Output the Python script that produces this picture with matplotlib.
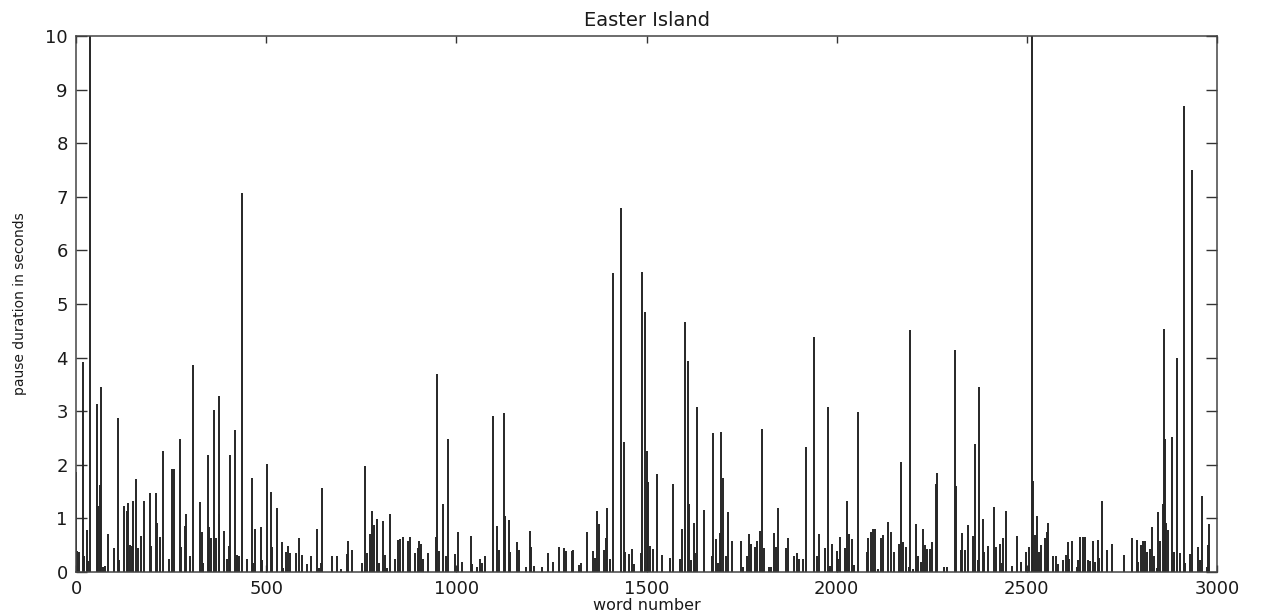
import matplotlib.pyplot as plt

# pauses (word index, pause in seconds)
word_number = [
    0, 3, 8, 17, 22, 28, 32, 38, 54, 57, 62, 66, 72, 77, 83, 100, 110, 112, 126, 133,
    137, 142, 146, 150, 157, 162, 170, 179, 195, 197, 210, 214, 220, 228, 245, 253, 258, 274, 276, 287,
    290, 300, 307, 326, 330, 335, 346, 349, 355, 363, 368, 375, 377,
    390, 396, 401, 405, 419, 422, 428, 436, 449, 462, 464, 470, 486, 490, 501, 512, 514, 529,
    541, 545, 552, 558, 562, 578, 586, 595, 607, 617, 634, 638, 645, 648, 672, 685, 698, 712, 716, 726,
    751, 760,
    765, 772, 778, 783, 791, 796, 808, 813, 818, 825, 838, 846, 852, 859, 872, 878, 892, 898, 902, 908,
    913, 926, 946, 948, 954, 966, 973, 978, 997, 1005, 1016, 1038, 1042, 1054, 1061, 1067, 1075, 1096, 1106, 1112,
    1124, 1127, 1138, 1140,
    1160, 1165, 1182, 1193, 1196, 1205, 1226, 1240, 1255, 1270, 1282, 1287, 1303, 1307, 1322, 1327, 1343, 1359, 1364, 1369,
    1375, 1389, 1393, 1395, 1404, 1411, 1433, 1441, 1444, 1453, 1461, 1468, 1485, 1489, 1496, 1501, 1505, 1508, 1516,
    1528, 1541, 1563, 1569, 1588, 1594, 1600, 1610, 1612, 1616, 1626, 1628, 1634, 1652, 1671, 1675, 1682, 1689, 1693, 1696,
    1700, 1709, 1715, 1725, 1748, 1754, 1765, 1769, 1774, 1785, 1791, 1798, 1803, 1810, 1822, 1828, 1836, 1840, 1845, 1868,
    1873, 1888, 1895, 1901,
    1912, 1919, 1941, 1947, 1953, 1969, 1978, 1983, 1988, 2000, 2004, 2009, 2022, 2028, 2032, 2039, 2046, 2057, 2079, 2083,
    2090, 2096, 2101, 2109, 2116, 2122, 2135, 2144, 2150, 2164, 2169, 2175, 2182, 2190, 2193, 2202, 2208, 2214, 2221, 2226,
    2232, 2238, 2245, 2250, 2260, 2264, 2281,
    2291, 2312, 2314, 2326, 2330, 2337, 2345, 2359, 2365, 2371, 2375, 2385, 2388, 2398, 2414, 2419, 2429, 2434, 2438, 2444,
    2462, 2475, 2484, 2499, 2505, 2514, 2517, 2521, 2528, 2533, 2536, 2547, 2554, 2556, 2568, 2576, 2581, 2596, 2602, 2607,
    2611, 2619, 2631, 2635, 2641, 2647, 2653, 2661,
    2666, 2675, 2679, 2686, 2690, 2697, 2710, 2723, 2755, 2776, 2789, 2793, 2800, 2806, 2810, 2816, 2824, 2830, 2835, 2841,
    2845, 2850, 2857, 2861, 2864, 2867, 2872, 2882, 2887, 2896, 2902, 2913, 2915, 2929, 2935, 2949, 2955, 2960, 2973, 2977,
    2980,
]
pause_sec = [
    1.87, 0.4, 0.38, 3.92, 0.3, 0.78, 0.2, 12, 3.13, 1.24, 1.62, 3.46, 0.1, 0.12, 0.71, 0.44, 2.87, 0.22, 1.24, 1.13,
    1.28, 0.5, 0.48, 1.32, 1.73, 0.44, 0.67, 1.32, 1.48, 0.49, 1.48, 0.92, 0.66, 2.26, 0.24, 1.92, 1.93, 2.48, 0.46, 0.86,
    1.08, 0.3, 3.86, 1.3, 0.75, 0.16, 2.18, 0.83, 0.63, 3.03, 0.63, 3.29, 1.09,
    0.77, 0.25, 0.49, 2.18, 2.64, 0.32, 0.3, 7.07, 0.24, 1.76, 0.16, 0.8, 0.83, 0.22, 2.01, 1.5, 0.46, 1.2,
    0.55, 0.07, 0.38, 0.49, 0.35, 0.35, 0.63, 0.32, 0.14, 0.3, 0.81, 0.07, 0.17, 1.56, 0.3, 0.3, 0.05, 0.34, 0.58, 0.41,
    0.16, 1.97,
    0.35, 0.7, 1.14, 0.88, 0.99, 0.17, 0.95, 0.31, 0.07, 1.09, 0.24, 0.6, 0.62, 0.66, 0.58, 0.65, 0.36, 0.44, 0.57, 0.53,
    0.24, 0.36, 0.66, 3.69, 0.39, 1.27, 0.29, 2.49, 0.34, 0.75, 0.18, 0.68, 0.15, 0.1, 0.24, 0.17, 0.29, 2.91, 0.85, 0.41,
    2.96, 1.04, 0.97, 0.38,
    0.55, 0.41, 0.1, 0.76, 0.46, 0.11, 0.1, 0.36, 0.19, 0.47, 0.44, 0.39, 0.4, 0.41, 0.13, 0.16, 0.74, 0.4, 0.27, 1.14,
    0.89, 0.41, 0.63, 1.19, 0.25, 5.58, 6.8, 2.42, 0.38, 0.33, 0.42, 0.14, 0.35, 5.6, 4.85, 2.25, 1.67, 0.49, 0.43,
    1.83, 0.31, 0.27, 1.65, 0.25, 0.8, 4.66, 3.94, 1.27, 0.22, 0.91, 0.36, 3.08, 1.16, 0.3, 2.59, 0.61, 0.16, 0.72, 2.61,
    1.75, 0.29, 1.11, 0.58, 0.58, 0.1, 0.29, 0.71, 0.53, 0.46, 0.58, 0.77, 2.67, 0.44, 0.1, 0.1, 0.73, 0.47, 1.2, 0.44,
    0.63, 0.3, 0.36, 0.24,
    0.25, 2.33, 4.38, 0.3, 0.71, 0.44, 3.07, 0.11, 0.53, 0.4, 0.24, 0.65, 0.44, 1.32, 0.71, 0.62, 0.13, 2.99, 0.38, 0.63,
    0.75, 0.81, 0.8, 0.05, 0.64, 0.69, 0.94, 0.74, 0.38, 0.53, 2.05, 0.56, 0.46, 0.1, 4.52, 0.05, 0.9, 0.3, 0.18, 0.8,
    0.5, 0.42, 0.43, 0.55, 1.64, 1.85, 0.1,
    0.1, 4.14, 1.6, 0.41, 0.72, 0.41, 0.88, 0.68, 2.39, 0.22, 3.46, 0.98, 0.38, 0.49, 1.22, 0.47, 0.53, 0.17, 0.63, 1.13,
    0.11, 0.67, 0.18, 0.38, 0.47, 12, 1.7, 0.69, 1.05, 0.38, 0.5, 0.63, 0.74, 0.92, 0.3, 0.29, 0.15, 0.22, 0.32, 0.55,
    0.24, 0.58, 0.09, 0.22, 0.65, 0.65, 0.65, 0.22,
    0.21, 0.57, 0.18, 0.6, 0.27, 1.33, 0.41, 0.52, 0.32, 0.63, 0.6, 0.19, 0.5, 0.58, 0.58, 0.38, 0.42, 0.83, 0.29, 0.07,
    1.11, 0.57, 1.27, 4.54, 2.48, 0.91, 0.78, 2.52, 0.38, 3.99, 0.36, 8.7, 0.16, 0.34, 7.5, 0.46, 0.22, 1.42, 0.1, 0.5,
    0.89,
]
x_ticks = [0, 500, 1000, 1500, 2000, 2500, 3000]
y_ticks = list(range(0, 11))


def main():
    plt.rcParams['font.family'] = ['DejaVu Sans']
    fig = plt.figure(figsize=(12.61, 6.12), dpi=100)
    ax = fig.add_axes([0.0603, 0.0654, 0.9048, 0.8758])

    ax.vlines(word_number, 0, pause_sec, colors='#262626', linewidth=1.4)

    ax.set_xlim(0, 3000)
    ax.set_ylim(0, 10)
    ax.set_xticks(x_ticks)
    ax.set_yticks(y_ticks)
    ax.tick_params(direction='in', top=True, right=True, labelsize=13,
                   width=1, colors='#333333', labelcolor='#1a1a1a')
    ax.tick_params(axis='x', length=5, pad=6)
    ax.tick_params(axis='y', length=8, pad=6)
    for s in ax.spines.values():
        s.set_color('#444444')
        s.set_linewidth(1.1)

    ax.set_xlabel("word number", fontsize=11.5, labelpad=0, color='#1a1a1a')
    ax.set_ylabel("pause duration in seconds", fontsize=10, color='#1a1a1a')
    ax.yaxis.set_label_coords(-0.043, 0.5)
    ax.set_title("Easter Island", fontsize=14, pad=7, color='#1a1a1a')

    fig.savefig("out.png", dpi=100)


if __name__ == '__main__':
    main()
